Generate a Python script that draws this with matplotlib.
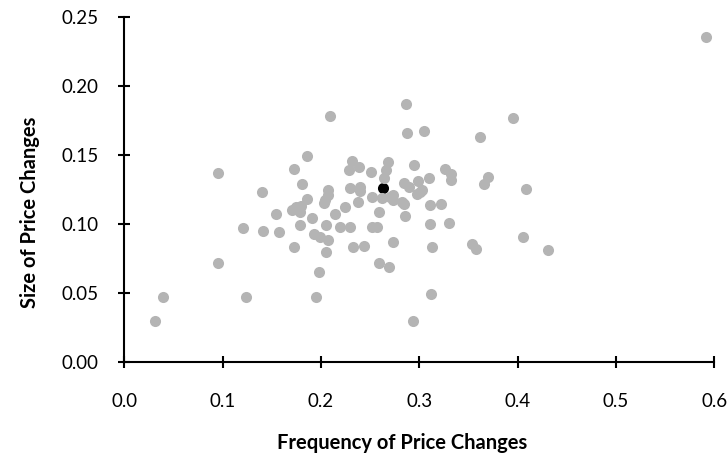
import matplotlib.pyplot as plt
import numpy as np

# frequency / size of price changes
freq = [0.031, 0.039, 0.095, 0.095, 0.121, 0.124, 0.140, 0.141, 0.154, 0.157,
        0.172, 0.172, 0.186, 0.181, 0.186, 0.175, 0.170, 0.180, 0.179, 0.179,
        0.191, 0.193, 0.199, 0.2075, 0.195, 0.198, 0.205, 0.209, 0.2075, 0.2075,
        0.204, 0.2025, 0.205, 0.214, 0.2245, 0.219, 0.229, 0.232, 0.239, 0.228,
        0.229, 0.240, 0.240, 0.238, 0.233, 0.244, 0.251, 0.268, 0.264, 0.266,
        0.252, 0.262, 0.270, 0.259, 0.252, 0.257, 0.259, 0.2695, 0.2735, 0.2735,
        0.284, 0.2855, 0.282, 0.2975, 0.301, 0.284, 0.289, 0.299, 0.3025, 0.3098,
        0.2863, 0.2877, 0.3043, 0.2945, 0.3257, 0.3325, 0.332, 0.3104, 0.3223, 0.3104,
        0.3298, 0.2737, 0.3128, 0.3536, 0.3576, 0.294, 0.312, 0.3617, 0.3699, 0.3658,
        0.3956, 0.409, 0.4055, 0.4313, 0.592]
size = [0.030, 0.047, 0.072, 0.137, 0.097, 0.047, 0.123, 0.095, 0.107, 0.094,
        0.140, 0.083, 0.149, 0.129, 0.118, 0.112, 0.110, 0.113, 0.109, 0.099,
        0.104, 0.093, 0.0905, 0.0887, 0.047, 0.065, 0.080, 0.178, 0.1245, 0.121,
        0.117, 0.115, 0.0995, 0.107, 0.1125, 0.098, 0.098, 0.1455, 0.141, 0.139,
        0.126, 0.1265, 0.124, 0.116, 0.083, 0.084, 0.1375, 0.1447, 0.1335, 0.139,
        0.1195, 0.1185, 0.1195, 0.1085, 0.0975, 0.098, 0.0715, 0.0685, 0.117, 0.1207,
        0.1147, 0.106, 0.116, 0.122, 0.123, 0.130, 0.1267, 0.131, 0.1243, 0.1334,
        0.187, 0.166, 0.167, 0.1425, 0.140, 0.1363, 0.1315, 0.1134, 0.1147, 0.0997,
        0.1007, 0.087, 0.0833, 0.0858, 0.0816, 0.030, 0.049, 0.1626, 0.134, 0.129,
        0.1768, 0.1252, 0.0903, 0.081, 0.2355]

# the highlighted (black) observation
avg_freq = [0.263]
avg_size = [0.126]

plt.rcParams['font.family'] = ['Lato', 'DejaVu Sans']

fig = plt.figure(figsize=(7.28, 4.66), dpi=100)
ax = fig.add_axes([0.171, 0.223, 0.81, 0.741])

ax.scatter(avg_freq, avg_size, s=64, color='black', linewidths=0, zorder=2)
ax.scatter(freq, size, s=64, color='#b4b4b4', linewidths=0, zorder=3)

ax.set_xlim(0, 0.6)
ax.set_ylim(0, 0.25)
ax.set_xticks(np.arange(0, 0.61, 0.1))
ax.set_yticks(np.arange(0, 0.251, 0.05))
ax.set_xticklabels(['%.1f' % v for v in np.arange(0, 0.61, 0.1)])
ax.set_yticklabels(['%.2f' % v for v in np.arange(0, 0.251, 0.05)])

for s in ['top', 'right']:
    ax.spines[s].set_visible(False)
for s in ['left', 'bottom']:
    ax.spines[s].set_linewidth(1.5)
ax.tick_params(direction='inout', length=9, width=1.5, labelsize=13.5, colors='black')
ax.tick_params(axis='x', pad=18)
ax.tick_params(axis='y', pad=14)

fig.text(0.552, 0.049, 'Frequency of Price Changes', ha='center', va='center',
         fontsize=14.5, fontweight='bold')
fig.text(0.041, 0.545, 'Size of Price Changes', ha='center', va='center',
         rotation=90, fontsize=14.5, fontweight='bold')

fig.savefig('out.png', dpi=100)
